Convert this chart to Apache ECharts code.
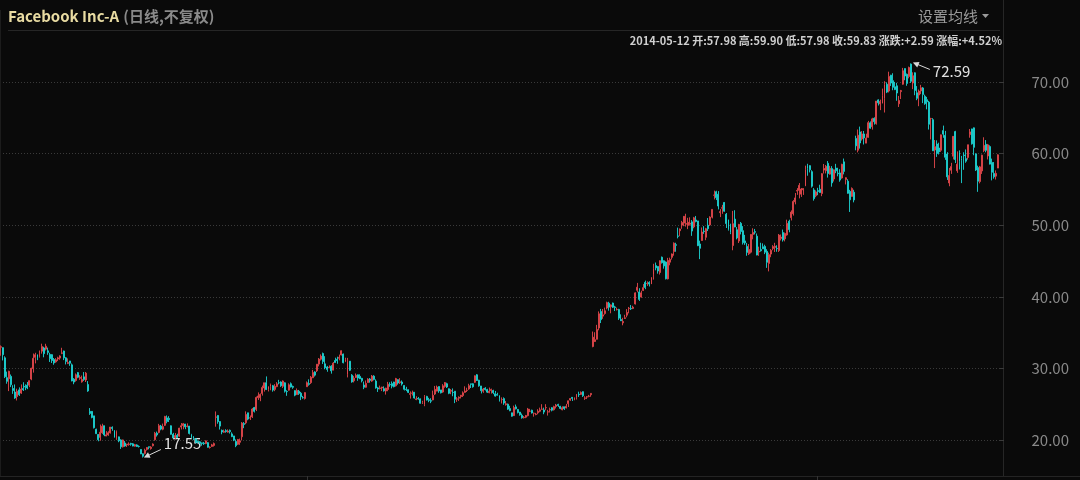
<!DOCTYPE html>
<html><head><meta charset="utf-8">
<script src="https://cdn.jsdelivr.net/npm/echarts@6/dist/echarts.min.js"></script>
<style>html,body{margin:0;padding:0;background:#0a0a0a;}#c{width:1080px;height:480px;}</style>
</head><body><div id="c"></div>
<script>
// ---- data (daily, unadjusted) ----
const opens = [
// 2012-05
32.95,32.90,31.48,28.70,28.55,
// 2012-06
28.89,27.20,26.70,26.07,27.00,26.55,27.18,27.48,27.66,27.65,28.51,29.96,31.54,31.92,31.67,32.41,32.86,32.69,32.46,31.96,31.92,
// 2012-07
31.25,30.91,31.32,31.44,32.10,32.43,31.48,30.70,31.04,30.50,28.49,28.31,29.41,28.61,28.12,28.82,28.38,27.75,24.00,24.00,23.37,
// 2012-08
21.50,20.77,20.36,21.00,22.00,20.55,20.70,21.00,21.78,21.32,20.30,20.44,20.01,19.05,19.58,19.32,19.38,19.52,19.47,19.13,19.31,19.10,18.68,
// 2012-09
18.08,18.13,18.68,19.06,18.80,19.20,20.05,20.96,21.05,21.94,21.50,22.05,23.09,23.01,21.99,20.81,20.30,20.65,20.52,
// 2012-10
21.81,22.01,22.23,21.90,21.95,20.74,20.48,20.17,19.85,19.75,19.60,19.55,19.50,19.63,18.95,19.10,19.24,23.16,23.43,22.58,21.35,
// 2012-11
21.08,21.31,21.10,21.35,20.85,20.57,19.80,19.40,19.68,20.45,22.30,22.40,23.80,23.06,23.23,24.53,24.27,25.91,25.90,26.50,27.26,
// 2012-12
28.00,27.09,27.50,27.58,27.07,27.46,28.00,28.10,27.50,27.99,26.77,26.96,27.86,27.48,26.90,26.34,26.81,26.54,25.91,25.80,
// 2013-01
27.44,27.88,28.01,28.69,29.51,29.67,30.60,31.28,32.08,30.64,30.21,30.08,30.31,29.75,31.10,31.27,31.41,31.88,32.00,30.98,29.15,
// 2013-02
31.01,29.06,28.26,28.74,29.11,28.89,28.61,27.67,27.36,28.02,28.52,28.23,28.92,28.23,27.28,27.20,27.26,27.17,26.84,
// 2013-03
27.05,27.76,27.88,28.10,27.57,28.43,28.01,28.10,27.62,27.10,27.03,26.37,26.53,26.68,25.66,25.80,25.75,25.08,25.00,26.09,
// 2013-04
25.63,25.50,25.60,26.42,26.83,27.47,27.00,26.70,27.48,27.86,27.16,26.81,26.65,26.82,25.71,25.84,26.07,26.20,26.65,26.92,27.13,27.85,
// 2013-05
27.85,28.05,29.11,28.35,27.55,26.81,27.24,27.04,26.60,26.90,26.91,26.46,26.37,26.20,25.63,25.78,24.93,25.00,24.39,23.80,23.40,24.63,
// 2013-06
24.27,23.90,23.45,23.12,23.18,23.40,24.02,24.16,23.72,23.56,23.80,24.01,24.28,24.20,24.50,23.90,24.20,24.51,24.23,24.68,
// 2013-07
24.97,24.70,24.22,24.65,24.47,25.07,25.58,25.96,25.74,25.93,26.39,26.37,26.75,25.82,25.99,26.10,26.32,33.05,33.75,34.07,35.65,37.96,
// 2013-08
37.30,37.66,38.43,39.11,38.61,39.13,38.59,38.20,38.24,36.83,36.36,36.97,37.43,38.35,38.38,38.37,39.00,40.90,40.68,39.96,40.89,42.02,
// 2013-09
41.84,42.01,41.79,43.09,44.36,44.24,43.39,45.53,45.04,44.85,42.50,44.83,45.51,46.32,47.28,48.50,49.23,50.01,50.29,50.14,
// 2013-10
49.97,50.13,50.47,49.77,50.73,50.60,47.38,47.86,49.18,48.31,49.99,50.04,51.12,54.18,54.68,54.33,51.75,52.38,53.18,51.54,50.73,50.00,47.16,
// 2013-11
50.85,49.37,47.79,50.26,49.24,47.81,47.04,46.00,46.23,48.70,49.11,48.47,46.26,46.61,46.99,47.04,46.36,44.66,45.97,46.75,
// 2013-12
46.90,46.75,46.46,48.15,48.98,48.09,48.64,50.55,51.05,51.60,53.26,54.76,54.86,54.33,54.93,55.50,58.27,58.32,57.48,54.93,54.12,
// 2014-01
54.83,55.02,54.42,57.70,57.60,58.65,57.13,57.91,56.46,57.98,57.26,57.30,56.60,58.85,56.37,56.15,54.73,54.02,54.61,62.12,60.47,
// 2014-02
63.03,62.05,62.74,61.46,62.27,64.30,63.75,64.92,64.18,67.50,66.94,67.05,67.73,69.69,68.74,70.95,70.19,69.34,69.47,
// 2014-03
66.96,68.66,69.69,71.88,71.08,70.77,72.50,69.86,71.29,68.49,68.18,68.76,69.17,68.01,67.53,67.19,64.89,64.74,60.51,61.34,60.78,
// 2014-04
60.46,63.21,62.55,59.94,55.90,57.68,59.63,63.08,57.60,60.09,59.29,59.79,59.30,59.46,62.65,63.45,63.60,59.97,58.05,56.09,57.58,
// 2014-05
60.43,61.30,59.67,60.98,58.77,57.23,56.85,57.98
];
const closes = [
33.03,31.91,28.84,28.19,29.60,
27.72,26.90,25.87,26.81,26.31,27.10,27.01,27.40,27.27,28.29,30.01,31.41,31.91,31.60,31.84,33.05,32.06,33.10,32.23,31.36,31.10,
30.77,31.20,31.47,31.73,32.17,31.47,30.97,30.81,30.72,28.25,28.09,29.11,28.76,28.75,28.45,28.45,29.34,26.85,23.71,23.15,21.71,
20.88,20.04,21.09,21.92,20.72,20.72,21.01,21.81,21.60,20.38,21.20,19.87,19.05,20.01,19.16,19.44,19.44,19.41,19.15,19.34,19.10,19.09,18.06,
17.73,18.58,18.96,18.98,19.00,19.43,20.93,20.71,22.00,21.52,21.87,23.29,22.59,22.86,20.79,20.28,20.62,20.32,21.66,
21.99,22.27,21.83,21.95,20.91,20.40,20.23,19.64,19.75,19.52,19.52,19.48,19.88,18.98,19.00,19.32,19.50,23.23,22.56,21.94,21.11,
21.21,21.18,21.25,21.17,20.47,19.99,19.21,20.07,19.86,22.36,22.17,23.56,22.92,23.10,24.32,24.00,25.94,26.15,26.36,27.32,28.00,
27.04,27.46,27.71,26.97,27.49,27.84,27.98,27.58,28.24,26.81,26.75,27.71,27.41,27.36,26.26,26.93,26.51,26.05,25.91,26.62,
28.00,27.77,28.76,29.42,29.06,30.59,31.30,31.72,30.95,30.10,29.85,30.14,29.66,30.73,30.82,31.08,31.54,32.47,30.79,31.24,30.98,
29.73,28.11,28.64,29.05,28.65,28.55,28.26,27.37,27.91,28.50,28.32,28.93,28.46,27.28,27.13,27.27,27.39,26.87,27.25,
27.78,27.72,27.52,27.45,28.58,27.96,28.14,27.83,27.08,27.04,26.65,26.49,26.55,25.86,25.74,25.73,25.13,25.21,26.09,25.58,
25.53,25.42,26.25,27.07,27.39,26.85,26.59,27.57,28.02,27.40,26.52,26.92,26.63,25.69,25.73,25.97,26.25,26.59,26.85,26.94,27.59,27.77,
27.43,28.97,28.31,27.57,26.89,27.12,27.04,26.68,26.82,27.07,26.60,26.13,26.25,25.76,25.66,25.16,25.06,24.31,24.10,23.32,24.55,24.35,
23.85,23.52,23.10,23.18,23.42,24.33,24.03,23.77,23.73,23.63,24.02,24.21,24.31,23.90,24.53,23.94,24.25,24.16,24.66,24.88,
24.81,24.41,24.52,24.37,24.71,25.48,25.80,25.81,25.91,26.28,26.32,26.65,26.18,25.88,26.05,26.13,26.51,34.36,34.01,35.43,37.63,36.80,
37.49,38.05,39.19,38.55,38.87,38.54,38.50,38.22,37.02,36.65,36.56,37.08,37.81,38.41,38.32,38.55,40.55,41.34,39.64,40.55,41.28,41.29,
41.87,41.78,42.66,43.95,44.04,43.60,45.04,44.75,44.31,42.51,45.07,45.23,45.98,47.49,47.19,48.45,49.46,50.39,51.24,50.23,
50.42,50.28,49.18,51.04,50.52,47.14,46.77,49.05,49.11,49.51,49.50,51.14,52.21,54.22,53.85,52.68,51.90,52.45,51.95,50.23,49.40,49.01,50.21,
49.75,48.22,50.11,49.12,47.56,47.53,46.20,46.61,48.71,48.99,49.01,45.83,46.36,46.43,46.70,46.23,44.82,45.89,46.49,47.01,
47.06,46.73,48.62,48.34,47.94,48.84,50.25,49.38,51.83,53.32,53.81,54.86,55.57,55.05,55.12,57.77,57.96,57.73,55.44,53.71,54.65,
54.71,54.56,57.20,57.92,58.23,57.22,57.94,55.91,57.74,57.60,57.19,56.30,58.51,57.51,56.63,54.45,53.55,55.14,53.53,61.08,62.57,
61.48,62.75,62.19,62.16,64.32,63.55,64.85,64.45,67.33,67.09,67.30,68.06,69.63,68.59,70.78,69.85,69.26,68.94,68.46,
67.41,68.80,71.57,70.84,69.80,72.03,70.10,70.88,68.83,67.72,68.74,69.19,68.24,66.97,67.24,64.10,64.89,60.39,60.97,60.01,60.24,
62.62,62.72,59.49,56.75,56.95,58.19,62.41,59.16,58.53,58.89,59.09,59.72,58.94,61.24,63.03,61.36,60.87,57.71,56.14,58.15,59.78,
61.15,60.46,61.22,58.53,57.39,56.76,57.24,59.83
];
const lows = [
31.77,31.11,28.65,27.86,26.83,
27.39,26.44,25.75,25.52,26.15,26.44,26.84,26.96,27.10,27.38,28.35,29.41,30.70,31.15,31.51,32.06,31.55,32.50,31.90,30.90,30.76,
30.51,30.80,31.02,31.20,31.99,31.16,30.55,30.60,30.36,28.20,27.79,28.15,28.63,28.40,28.01,28.25,28.10,26.73,23.51,23.03,21.61,
20.84,19.82,19.90,20.86,20.53,20.52,20.59,20.90,21.28,20.33,20.02,19.69,18.75,18.95,19.06,19.02,19.20,19.20,19.12,19.08,19.03,18.95,18.03,
17.55,17.98,18.52,18.70,18.65,19.10,19.90,20.48,20.93,21.36,21.36,21.95,22.33,22.51,20.75,20.25,20.12,20.28,20.45,
21.47,21.50,21.51,21.76,20.78,20.21,19.98,19.56,19.52,19.45,19.20,19.31,19.42,18.94,18.80,19.04,19.08,21.86,22.27,21.46,20.80,
21.01,21.02,21.02,20.90,20.40,19.84,19.00,19.30,19.32,19.94,21.65,22.20,22.76,22.79,23.08,23.84,24.04,25.59,25.42,26.20,26.76,
26.98,26.78,26.95,26.75,26.82,27.37,27.77,27.42,27.26,26.62,26.17,26.90,27.33,27.15,26.11,26.32,26.30,25.57,25.77,25.65,
27.42,27.59,27.83,28.65,28.86,29.49,30.28,31.10,30.62,29.88,29.53,30.03,29.27,29.74,30.80,30.65,31.13,31.81,30.71,30.88,28.74,
29.63,28.01,28.04,28.66,28.27,28.51,28.04,27.10,27.31,28.01,28.01,28.12,28.33,27.17,26.71,27.06,26.83,26.76,26.34,
26.81,27.44,27.21,27.35,27.47,27.73,27.83,27.60,26.92,26.83,26.56,25.78,26.21,25.78,25.56,25.63,25.08,25.03,24.72,25.52,
25.28,25.15,25.55,26.28,26.80,26.59,26.50,26.60,27.30,27.26,26.40,26.40,26.11,25.15,25.32,25.46,25.80,26.00,26.60,26.70,27.01,27.26,
27.31,27.98,28.24,27.44,26.50,26.59,26.91,26.57,26.53,26.48,26.40,26.06,26.20,25.37,25.10,24.91,24.80,24.21,24.02,23.26,23.35,24.27,
23.71,23.40,22.98,23.00,23.05,23.30,23.89,23.70,23.26,23.45,23.59,23.88,24.25,23.60,24.15,23.41,23.84,24.00,24.12,24.40,
24.62,24.30,24.15,24.20,24.42,24.61,25.47,25.45,25.55,25.65,26.01,26.30,26.01,25.60,25.72,25.97,26.04,32.95,33.70,34.04,35.32,36.33,
36.92,37.50,38.25,38.06,37.70,38.43,38.01,38.10,36.77,36.62,36.02,36.90,37.14,37.69,38.15,38.28,38.93,40.62,39.42,39.88,40.80,41.06,
41.51,41.44,41.77,42.40,43.70,43.23,43.11,44.65,43.93,42.43,42.43,44.40,45.20,45.74,46.29,48.16,48.46,49.50,49.86,49.80,
49.45,49.95,48.51,49.57,50.40,47.08,45.26,47.83,48.79,47.91,49.18,49.90,50.95,53.60,53.51,52.20,51.13,51.59,51.88,49.61,49.25,48.75,46.50,
49.72,48.02,47.51,48.71,47.30,47.25,45.73,45.83,46.06,48.03,48.71,45.80,45.72,46.31,46.69,45.96,44.04,43.55,45.53,46.50,
46.26,46.29,46.26,47.87,47.71,47.74,48.54,49.01,50.66,51.34,52.91,54.24,53.75,53.95,54.23,55.45,56.91,57.37,55.25,53.43,53.91,
54.19,54.53,54.05,57.22,57.23,56.65,57.06,55.38,56.10,57.27,56.83,56.07,56.50,57.10,55.69,54.40,51.85,54.00,53.19,60.46,60.17,
60.70,61.82,61.27,61.46,62.22,63.47,63.35,64.05,64.05,66.72,66.07,67.00,65.74,68.45,68.54,69.45,68.85,68.87,67.38,
66.51,67.62,69.62,70.25,69.47,70.51,69.86,69.00,68.15,67.46,66.62,68.30,67.05,66.82,66.18,63.36,61.98,60.37,57.98,59.54,59.87,
60.24,62.21,59.13,56.32,55.44,57.17,59.19,58.68,57.31,57.78,55.88,57.74,58.72,59.15,62.22,61.26,59.77,57.57,54.66,55.84,57.16,
60.21,60.18,59.18,58.49,56.26,56.50,56.38,57.98
];
const highs = [
33.21,32.95,31.69,29.55,29.67,
29.15,27.65,27.76,27.17,27.35,27.76,28.07,27.77,28.10,28.32,30.10,32.08,32.18,31.93,32.50,33.45,33.02,33.44,32.90,32.19,31.99,
31.45,31.44,31.63,31.83,32.88,32.48,31.56,31.40,31.05,30.69,28.64,29.29,29.50,29.05,29.00,29.49,29.50,28.23,24.46,24.04,23.37,
21.58,20.84,22.16,22.27,22.00,21.24,21.22,21.82,21.90,21.39,21.33,20.48,20.10,20.06,19.87,19.45,19.67,19.61,19.57,19.45,19.40,19.25,18.70,
18.12,18.79,19.00,19.07,19.14,19.53,21.13,21.18,22.25,22.11,22.29,23.37,23.43,23.33,22.04,21.00,20.98,20.87,21.70,
22.37,22.38,22.25,22.32,21.96,20.86,20.54,20.26,19.92,19.85,19.62,19.73,19.94,19.71,19.12,19.46,19.65,23.99,23.47,22.60,21.46,
21.44,21.50,21.48,21.46,21.07,20.57,20.08,20.15,20.20,22.50,22.50,24.00,23.80,23.43,24.45,24.62,26.07,26.65,26.50,27.60,28.00,
28.88,27.48,27.88,27.69,27.80,28.08,28.40,28.19,28.32,28.06,26.95,27.91,28.04,27.60,26.93,27.20,26.99,26.72,26.16,26.66,
28.18,28.47,28.93,29.79,29.60,30.60,31.45,31.96,32.21,31.71,30.35,30.42,30.44,30.89,31.50,31.64,31.93,32.51,32.07,31.49,31.47,
31.02,29.20,28.96,29.29,29.15,29.17,28.68,28.16,28.32,28.63,28.65,29.08,29.05,28.47,27.42,27.60,27.43,27.49,27.30,
28.12,28.06,28.18,28.13,28.68,28.47,28.64,28.32,27.65,27.43,27.06,26.79,26.90,26.69,26.11,26.01,25.80,25.48,26.28,26.17,
25.89,25.83,26.90,27.55,27.60,27.47,27.00,27.80,28.10,28.00,27.20,27.11,27.20,26.82,25.99,26.10,26.30,26.79,27.50,27.30,27.85,27.85,
27.92,29.02,29.21,28.41,27.55,27.27,27.37,27.15,27.33,27.17,27.02,26.85,26.60,26.23,25.95,25.95,25.45,25.09,24.78,23.81,24.80,24.95,
24.32,23.92,23.70,23.35,23.50,24.48,24.35,24.23,23.83,23.79,24.30,24.52,25.00,24.52,25.00,24.22,24.52,24.58,24.79,25.04,
25.06,24.77,24.71,24.66,25.04,25.49,25.83,26.00,25.93,26.43,26.75,26.78,26.79,26.11,26.13,26.30,26.53,35.15,35.05,36.08,37.96,38.31,
38.29,38.49,39.32,39.30,38.94,39.19,38.74,38.50,38.32,37.55,37.07,37.49,38.28,38.58,38.85,38.75,40.63,41.94,41.20,40.85,41.78,42.26,
42.16,42.17,42.76,44.61,44.79,44.26,45.09,45.62,45.08,44.94,45.44,45.47,46.05,47.60,47.55,49.66,49.54,50.60,51.28,51.60,
51.03,51.10,50.72,51.16,51.29,50.60,47.84,49.68,49.87,49.63,51.00,51.24,52.22,54.83,54.81,54.76,52.25,52.84,53.24,51.70,50.79,50.21,52.00,
52.09,49.75,50.18,50.45,49.87,48.65,47.53,47.37,48.74,49.57,49.48,48.84,47.00,47.55,47.46,47.27,46.65,46.17,46.67,47.21,
47.54,47.20,48.77,48.70,49.39,48.97,50.77,50.77,52.07,53.50,54.50,55.18,55.89,55.19,55.15,58.32,58.58,58.38,57.68,55.18,54.86,
55.22,55.65,57.26,58.55,58.41,58.96,58.30,58.25,57.78,58.57,58.02,57.82,58.58,59.31,56.68,56.42,54.94,55.28,54.95,62.50,63.37,
63.77,63.14,63.16,62.78,64.57,64.49,65.00,65.06,67.33,67.58,67.54,69.08,70.11,69.96,71.44,71.00,71.22,70.01,69.88,
68.05,68.90,71.97,71.89,71.18,72.15,72.59,71.35,71.35,69.43,68.95,69.60,69.29,68.23,67.92,67.36,65.00,64.95,61.90,61.85,61.52,
62.66,63.91,63.17,60.20,58.00,58.71,62.46,63.18,60.31,60.45,59.68,60.19,60.58,61.24,63.44,63.48,63.65,60.01,58.31,58.28,59.85,
62.28,61.89,61.35,61.15,59.30,58.82,57.65,59.90
];
const yTicks = [20, 30, 40, 50, 60, 70];
const holidays = ['2012-05-28','2012-07-04','2012-09-03','2012-10-29','2012-10-30','2012-11-22','2012-12-25',
  '2013-01-01','2013-01-21','2013-02-18','2013-03-29','2013-05-27','2013-07-04','2013-09-02','2013-11-28','2013-12-25',
  '2014-01-01','2014-01-20','2014-02-17','2014-04-18'];
const titleName = 'Facebook Inc-A';
const titleNote = '(日线,不复权)';
const maButton = '设置均线';

// trading-day categories
const dates = [];
(function () {
  const d = new Date(Date.UTC(2012, 4, 24));
  while (dates.length < closes.length) {
    const wd = d.getUTCDay();
    const s = d.toISOString().slice(0, 10);
    if (wd !== 0 && wd !== 6 && holidays.indexOf(s) < 0) dates.push(s);
    d.setUTCDate(d.getUTCDate() + 1);
  }
})();

const kdata = closes.map((c, i) => [opens[i], c, lows[i], highs[i]]);
const FONT = '"Noto Sans CJK SC","Noto Sans",sans-serif';
const UP = '#e3474c', DOWN = '#1dd3d3';
const UP_BODY = '#9a3336', DOWN_BODY = '#17a2a2';

const chart = echarts.init(document.getElementById('c'), null, {renderer: 'canvas'});
chart.setOption({
  backgroundColor: '#0a0a0a',
  animation: false,
  title: {
    left: 8, top: 7, padding: 0,
    text: '{a|' + titleName + '} {b|' + titleNote + '}',
    textStyle: {
      fontFamily: FONT,
      rich: {
        a: {color: '#e8dba2', fontSize: 15, fontFamily: FONT},
        b: {color: '#8a8a8a', fontSize: 15, fontFamily: FONT}
      }
    }
  },
  grid: {left: 0, top: 82, width: 999, height: 358},
  xAxis: {
    type: 'category', data: dates, boundaryGap: true, offset: 36,
    axisLine: {show: false},
    axisTick: {show: true, length: 4, alignWithLabel: true,
      interval: (i, v) => i > 0 && String(v).slice(0, 4) !== dates[i - 1].slice(0, 4),
      lineStyle: {color: '#333333'}},
    axisLabel: {show: false},
    splitLine: {show: false}
  },
  yAxis: {
    type: 'value', position: 'right', min: yTicks[0], max: yTicks[yTicks.length - 1], interval: 10,
    axisLine: {show: false},
    axisTick: {show: true, length: 5, lineStyle: {color: '#3a3a3a'}},
    axisLabel: {color: '#8a8a8a', fontSize: 15, fontFamily: FONT, margin: 70, align: 'right',
      formatter: v => v.toFixed(2)},
    splitLine: {show: true, lineStyle: {color: '#3a3a3a', type: [1, 2], width: 1}}
  },
  series: [{
    type: 'candlestick', data: kdata, clip: false, barWidth: 1.45, large: false,
    itemStyle: {color: UP_BODY, color0: DOWN_BODY, borderColor: UP, borderColor0: DOWN, borderWidth: 0.9}
  }]
});

// annotations & chrome, positioned through the chart's own scales
const maxI = highs.indexOf(Math.max.apply(null, highs));
const minI = lows.indexOf(Math.min.apply(null, lows));
const pMax = chart.convertToPixel({seriesIndex: 0}, [maxI, highs[maxI]]);
const pMin = chart.convertToPixel({seriesIndex: 0}, [minI, lows[minI]]);

function arrow(tip, tail) {
  const dx = tip[0] - tail[0], dy = tip[1] - tail[1];
  const L = Math.sqrt(dx * dx + dy * dy), ux = dx / L, uy = dy / L;
  const bx = tip[0] - ux * 6, by = tip[1] - uy * 6;
  return [
    {type: 'line', shape: {x1: tail[0], y1: tail[1], x2: tip[0] - ux * 2, y2: tip[1] - uy * 2},
      style: {stroke: '#d8d8d8', lineWidth: 1}},
    {type: 'polygon', shape: {points: [[tip[0], tip[1]], [bx - uy * 3, by + ux * 3], [bx + uy * 3, by - ux * 3]]},
      style: {fill: '#d8d8d8'}}
  ];
}
const tipMax = [pMax[0] + 2, pMax[1] - 1], tailMax = [tipMax[0] + 17, tipMax[1] + 7];
const tipMin = [pMin[0] + 1, pMin[1]], tailMin = [tipMin[0] + 17, tipMin[1] - 8];
const last = closes.length - 1;
const chg = closes[last] - closes[last - 1];
const info = dates[last] + ' 开:' + opens[last].toFixed(2) + ' 高:' + highs[last].toFixed(2) +
  ' 低:' + lows[last].toFixed(2) + ' 收:' + closes[last].toFixed(2) +
  ' 涨跌:' + (chg >= 0 ? '+' : '') + chg.toFixed(2) + ' 涨幅:' + (chg >= 0 ? '+' : '') + (chg / closes[last - 1] * 100).toFixed(2) + '%';

const g = [].concat(
  arrow(tipMax, tailMax), arrow(tipMin, tailMin),
  [
    {type: 'text', x: tailMax[0] + 3, y: tailMax[1] + 2,
      style: {text: highs[maxI].toFixed(2), fill: '#e2e2e2', fontSize: 15, fontFamily: FONT, verticalAlign: 'middle'}},
    {type: 'text', x: tailMin[0] + 3, y: tailMin[1] - 6,
      style: {text: lows[minI].toFixed(2), fill: '#e2e2e2', fontSize: 15, fontFamily: FONT, verticalAlign: 'middle'}},
    {type: 'text', x: 978, y: 16,
      style: {text: maButton, fill: '#9a9a9a', fontSize: 15, fontFamily: FONT, align: 'right', verticalAlign: 'middle'}},
    {type: 'polygon', shape: {points: [[982, 14], [989, 14], [985.5, 18]]}, style: {fill: '#9a9a9a'}},
    {type: 'text', x: 1002, y: 41,
      style: {text: info, fill: '#cfcfcf', fontSize: 11, fontWeight: 'bold', fontFamily: FONT, align: 'right', verticalAlign: 'middle'}},
    {type: 'line', shape: {x1: 8, y1: 30.5, x2: 1000, y2: 30.5}, style: {stroke: '#262626', lineWidth: 1}},
    {type: 'line', shape: {x1: 1003.5, y1: 0, x2: 1003.5, y2: 476}, style: {stroke: '#262626', lineWidth: 1}},
    {type: 'line', shape: {x1: 0.5, y1: 10, x2: 0.5, y2: 476}, style: {stroke: '#1c1c1c', lineWidth: 1}},
    {type: 'line', shape: {x1: 0, y1: 476.5, x2: 1080, y2: 476.5}, style: {stroke: '#242424', lineWidth: 1}}
  ]
);
chart.setOption({graphic: g});
</script>
</body></html>
